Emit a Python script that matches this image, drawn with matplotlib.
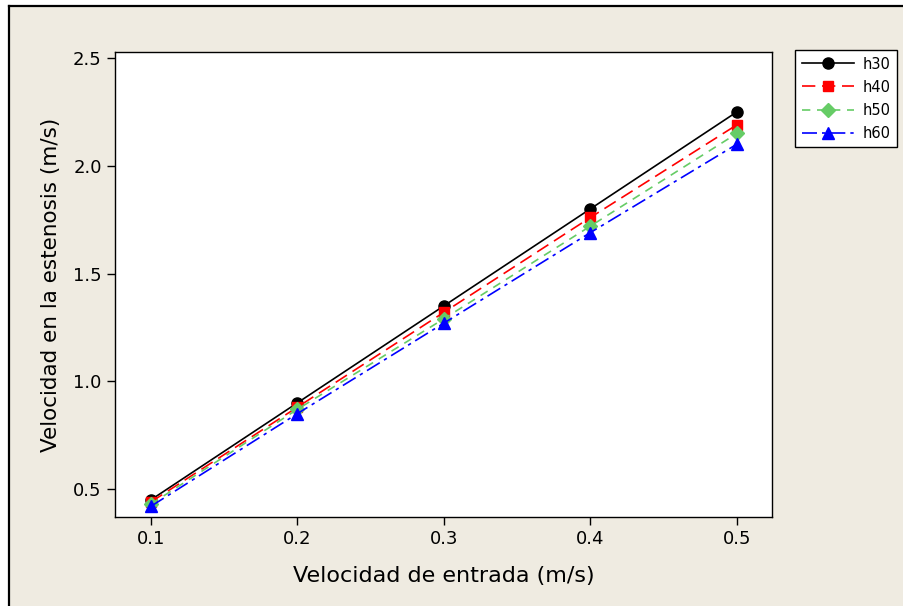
import numpy as np
import matplotlib.pyplot as plt
from matplotlib.patches import Rectangle

# data
x = [0.1, 0.2, 0.3, 0.4, 0.5]
h30 = [0.45, 0.90, 1.35, 1.80, 2.25]
h40 = [0.44, 0.88, 1.32, 1.76, 2.19]
h50 = [0.43, 0.87, 1.29, 1.72, 2.15]
h60 = [0.42, 0.85, 1.27, 1.69, 2.10]
xticks = [0.1, 0.2, 0.3, 0.4, 0.5]
yticks = [0.5, 1.0, 1.5, 2.0, 2.5]

bg = '#EFEBE1'
fig = plt.figure(figsize=(9.04, 6.06), dpi=100, facecolor='white')
# panel background and frame (screenshot crop: only left/top edges visible)
fig.patches.append(Rectangle((9/904, 0), 1, 1 - 6/606, transform=fig.transFigure,
                             facecolor=bg, edgecolor='none', zorder=-10))
fig.lines.append(plt.Line2D([9/904, 9/904], [0, 1 - 6/606], transform=fig.transFigure, color='k', lw=1.6))
fig.lines.append(plt.Line2D([9/904, 1], [1 - 6/606, 1 - 6/606], transform=fig.transFigure, color='k', lw=1.6))

ax = fig.add_axes([115/904, 1 - 517/606, (772-115)/904, (517-52)/606])
ax.set_facecolor('white')

ax.plot(x, h30, color='black', ls='-', lw=1.2, marker='o', ms=8, label='h30')
ax.plot(x, h40, color='red', ls=(0, (8, 4)), lw=1.2, marker='s', ms=7, label='h40')
ax.plot(x, h50, color='#66CC66', ls=(0, (5, 4)), lw=1.2, marker='D', ms=7, label='h50')
ax.plot(x, h60, color='blue', ls=(0, (9, 3, 2, 3)), lw=1.2, marker='^', ms=8, label='h60')

ax.set_xlim(0.0754, 0.524)
ax.set_ylim(0.37, 2.528)
ax.set_xticks(xticks)
ax.set_xticklabels(['%.1f' % v for v in xticks])
ax.set_yticks(yticks)
ax.set_yticklabels(['%.1f' % v for v in yticks])
ax.tick_params(labelsize=13, length=6, width=1)
for s in ax.spines.values():
    s.set_linewidth(1)

ax.set_xlabel('Velocidad de entrada (m/s)', fontsize=16, labelpad=13)
ax.set_ylabel('Velocidad en la estenosis (m/s)', fontsize=15.5, labelpad=9)

leg = ax.legend(loc='upper left', bbox_to_anchor=(795/904, 1 - 50/606), bbox_transform=fig.transFigure,
                fontsize=10.5, frameon=True, fancybox=False, edgecolor='black', framealpha=1,
                handlelength=3.6, handletextpad=0.6, borderpad=0.45, labelspacing=0.55,
                borderaxespad=0)
leg.get_frame().set_linewidth(1)

fig.savefig('out.png', dpi=100, facecolor='white')
